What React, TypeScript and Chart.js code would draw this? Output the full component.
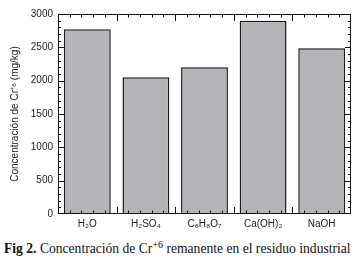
import React, { useEffect, useRef } from "react";
import { Chart, registerables } from "chart.js";

Chart.register(...registerables);

const categories = ["H₂O", "H₂SO₄", "C₆H₈O₇", "Ca(OH)₂", "NaOH"];
const values = [2770, 2050, 2200, 2900, 2485];
const yTicks = [0, 500, 1000, 1500, 2000, 2500, 3000];
const yTitle = "Concentración de Cr⁺⁶ (mg/kg)";

const tickPlugin = {
  id: "frameTicks",
  afterDraw(chart: any) {
    const { ctx, chartArea } = chart;
    const x = chart.scales.x;
    const y = chart.scales.y;
    const { left, right, top, bottom } = chartArea;
    ctx.save();
    ctx.strokeStyle = "#111";
    ctx.lineWidth = 1;
    ctx.strokeRect(left + 0.5, top + 0.5, right - left - 1, bottom - top - 1);
    const n = categories.length;
    const cw = (right - left) / n;
    ctx.beginPath();
    for (let i = 0; i < n; i++) {
      const c0 = x.getPixelForValue(i) - cw / 2;
      for (let j = 0; j < 5; j++) {
        const px = Math.round(c0 + (j * cw) / 5) + 0.5;
        const len = j === 0 ? 7 : 3.5;
        if (i === 0 && j === 0) continue;
        ctx.moveTo(px, bottom);
        ctx.lineTo(px, bottom - len);
        ctx.moveTo(px, top);
        ctx.lineTo(px, top + len);
      }
    }
    for (let v = 100; v < 3000; v += 100) {
      const py = Math.round(y.getPixelForValue(v)) + 0.5;
      const len = v % 500 === 0 ? 6 : 3;
      ctx.moveTo(left, py);
      ctx.lineTo(left + len, py);
      ctx.moveTo(right, py);
      ctx.lineTo(right - len, py);
    }
    ctx.stroke();
    ctx.restore();
  },
};

export default function App() {
  const ref = useRef<HTMLCanvasElement>(null);
  useEffect(() => {
    if (!ref.current) return;
    const chart = new Chart(ref.current, {
      type: "bar",
      data: {
        labels: categories,
        datasets: [
          {
            data: values,
            backgroundColor: "#b5b5b9",
            borderColor: "#1a1a1a",
            borderWidth: 1.5,
            barPercentage: 0.8,
            categoryPercentage: 1,
          },
        ],
      },
      options: {
        responsive: false,
        animation: false,
        events: [],
        layout: { padding: { top: 14, right: 6, left: 0, bottom: 0 } },
        plugins: { legend: { display: false }, tooltip: { enabled: false } },
        scales: {
          x: {
            grid: { display: false, drawTicks: false },
            border: { display: false },
            ticks: {
              color: "#222",
              padding: 4,
              font: { family: "Liberation Sans, Arial", size: 10 },
              maxRotation: 0,
            },
            afterFit: (s: any) => {
              s.height = 18;
            },
          },
          y: {
            min: 0,
            max: 3000,
            afterBuildTicks: (s: any) => {
              s.ticks = yTicks.map((v) => ({ value: v }));
            },
            grid: { display: false, drawTicks: false },
            border: { display: false },
            ticks: {
              color: "#222",
              padding: 5,
              font: { family: "Liberation Sans, Arial", size: 10 },
              callback: (v: any) => String(v),
            },
            title: {
              display: true,
              text: yTitle,
              color: "#222",
              font: { family: "Liberation Sans, Arial", size: 10 },
              padding: { top: 9, bottom: 0 },
            },
            afterFit: (s: any) => {
              s.width = 58;
            },
          },
        },
      },
      plugins: [tickPlugin],
    });
    return () => chart.destroy();
  }, []);
  return (
    <div style={{ position: "fixed", left: 0, top: 0, width: 357, height: 264, background: "#fff" }}>
      <canvas ref={ref} width={357} height={232} style={{ display: "block" }} />
      <div
        style={{
          position: "absolute",
          left: 4,
          top: 241,
          width: 353,
          whiteSpace: "nowrap",
          fontFamily: "'Liberation Serif', 'Times New Roman', serif",
          fontSize: 13.6,
          lineHeight: "16px",
          color: "#111",
        }}
      >
        <b>Fig 2.</b> Concentración de Cr<sup style={{ fontSize: 10, lineHeight: 0, verticalAlign: 5 }}>+6</sup> remanente en el residuo industrial
      </div>
    </div>
  );
}
